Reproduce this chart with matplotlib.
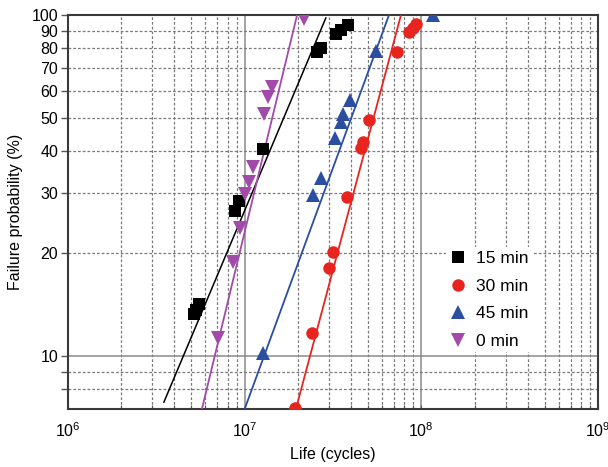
import numpy as np
import matplotlib
matplotlib.use("Agg")
import matplotlib.pyplot as plt
from matplotlib.ticker import FixedLocator, FuncFormatter, NullFormatter

plt.rcParams['font.family'] = ['Liberation Sans', 'DejaVu Sans']
plt.rcParams['mathtext.default'] = 'regular'

# life (cycles) vs failure probability (%)
life_15 = [5.16e6, 5.30e6, 5.51e6, 8.81e6, 9.28e6, 1.264e7, 2.58e7, 2.69e7, 3.27e7, 3.53e7, 3.82e7]
prob_15 = [13.3, 13.7, 14.2, 26.6, 28.5, 40.5, 77.9, 80.0, 87.9, 90.3, 93.5]

life_30 = [1.93e7, 2.40e7, 3.00e7, 3.16e7, 3.79e7, 4.55e7, 4.68e7, 5.05e7, 7.28e7, 8.51e7, 8.96e7, 9.28e7]
prob_30 = [7.05, 11.7, 18.1, 20.2, 29.3, 40.7, 42.4, 49.2, 77.9, 89.1, 91.6, 94.1]

life_45 = [1.27e7, 2.43e7, 2.70e7, 3.24e7, 3.51e7, 3.60e7, 3.94e7, 5.53e7, 1.16e8]
prob_45 = [10.2, 29.7, 33.3, 43.6, 48.6, 51.3, 56.3, 78.4, 100.0]

life_0 = [7.06e6, 8.59e6, 9.41e6, 1.004e7, 1.058e7, 1.114e7, 1.285e7, 1.355e7, 1.427e7, 2.17e7]
prob_0 = [11.3, 18.9, 23.7, 29.9, 32.4, 35.8, 51.3, 57.5, 61.5, 97.3]

# fitted lines (end points)
fit_15_x = [3.49e6, 2.88e7]
fit_15_y = [7.33, 98.0]
fit_30_x = [1.95e7, 7.67e7]
fit_30_y = [7.0, 100.0]
fit_45_x = [1.0e7, 6.56e7]
fit_45_y = [7.0, 100.0]
fit_0_x = [5.73e6, 1.98e7]
fit_0_y = [7.0, 100.0]

c_black = '#000000'
c_red = '#e8241e'
c_blue = '#2b4ea2'
c_purple = '#a24aaa'

fig = plt.figure(figsize=(6.08, 4.67), dpi=100)
ax = fig.add_axes([0.1118, 0.1242, 0.8718, 0.8437])

ax.set_xscale('log')
ax.set_yscale('log')
ax.set_xlim(1e6, 1e9)
ax.set_ylim(7, 100)

ax.plot(fit_15_x, fit_15_y, color=c_black, lw=1.1, zorder=3)
ax.plot(fit_30_x, fit_30_y, color=c_red, lw=1.3, zorder=3)
ax.plot(fit_45_x, fit_45_y, color=c_blue, lw=1.3, zorder=3)
ax.plot(fit_0_x, fit_0_y, color=c_purple, lw=1.3, zorder=3)

ax.plot(life_15, prob_15, 's', color=c_black, ms=8, mew=0, label='15 min', zorder=4)
ax.plot(life_30, prob_30, 'o', color=c_red, ms=9, mew=0, label='30 min', zorder=4)
ax.plot(life_45, prob_45, '^', color=c_blue, ms=9.5, mew=0, label='45 min', zorder=4)
ax.plot(life_0, prob_0, 'v', color=c_purple, ms=9.5, mew=0, label='0 min', zorder=4)

# y ticks
ax.yaxis.set_major_locator(FixedLocator([10, 100]))
ax.yaxis.set_minor_locator(FixedLocator([8, 9, 20, 30, 40, 50, 60, 70, 80, 90]))
ax.yaxis.set_major_formatter(FuncFormatter(lambda v, p: '%d' % v))
ax.yaxis.set_minor_formatter(FuncFormatter(lambda v, p: '%d' % v if v >= 20 else ''))

# x ticks
ax.xaxis.set_major_locator(FixedLocator([1e6, 1e7, 1e8, 1e9]))
ax.xaxis.set_minor_locator(FixedLocator([m * 10**e for e in (6, 7, 8) for m in range(2, 10)]))
ax.xaxis.set_minor_formatter(NullFormatter())

ax.tick_params(axis='y', which='both', direction='out', length=5, width=1, color='#555555',
               labelsize=11.5, pad=2)
ax.tick_params(axis='x', which='both', direction='in', length=3, width=0.8, color='#555555',
               labelsize=11.5, pad=9)

ax.grid(which='major', color='#8a8a8a', ls='-', lw=1.1)
ax.grid(which='minor', color='#7a7a7a', ls=(0, (2.2, 1.6)), lw=0.9)
ax.set_axisbelow(True)

for s in ax.spines.values():
    s.set_color('#3a3a3a')
    s.set_linewidth(1.5)

ax.set_xlabel('Life (cycles)', fontsize=11.5, labelpad=5)
ax.set_ylabel('Failure probability (%)', fontsize=11.5, labelpad=6)

leg = ax.legend(loc='center', bbox_to_anchor=(0.794, 0.277), fontsize=12.5,
                frameon=True, framealpha=1, facecolor='white', edgecolor='none',
                handlelength=1.0, handletextpad=0.5, labelspacing=0.72,
                borderpad=0.2, fancybox=False)

fig.savefig('out.png', dpi=100)
